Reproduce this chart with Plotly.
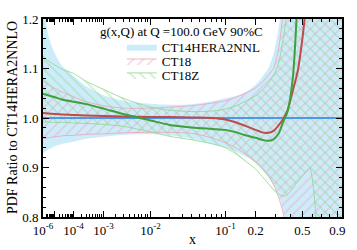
import numpy as np
import plotly.graph_objects as go

# ---- data ----
x_vals = [1e-6, 3e-6, 1e-5, 3e-5, 1e-4, 3e-4, 1e-3, 3e-3, 1e-2, 0.02, 0.04, 0.07,
          0.1, 0.13, 0.16, 0.2, 0.23, 0.26, 0.29, 0.32, 0.35, 0.38, 0.42, 0.46,
          0.5, 0.55, 0.57, 0.6, 0.63, 0.66, 0.7, 0.8, 0.9, 0.97]

ct14_central = [1.0] * len(x_vals)
ct14_upper = [1.25, 1.17, 1.13, 1.104, 1.085, 1.064, 1.046, 1.035, 1.029, 1.027, 1.028, 1.034,
              1.040, 1.045, 1.052, 1.067, 1.083, 1.100, 1.13, 1.18, 1.25, 1.35, 1.45, 1.55,
              1.65, 1.75, 1.8, 1.9, 2.0, 2.1, 2.2, 2.4, 2.6, 2.8]
ct14_lower = [0.929, 0.936, 0.943, 0.948, 0.952, 0.958, 0.962, 0.966, 0.967, 0.965, 0.958, 0.948,
              0.940, 0.932, 0.922, 0.910, 0.896, 0.881, 0.864, 0.845, 0.812, 0.76, 0.70, 0.64,
              0.58, 0.52, 0.50, 0.46, 0.42, 0.38, 0.34, 0.25, 0.15, 0.10]

ct18_central = [1.010, 1.009, 1.008, 1.007, 1.006, 1.005, 1.004, 1.003, 1.002, 1.002, 1.001, 1.000,
                0.997, 0.991, 0.984, 0.976, 0.971, 0.970, 0.974, 0.985, 0.998, 1.015, 1.055, 1.095,
                1.16, 1.26, 1.30, 1.40, 1.50, 1.60, 1.70, 1.90, 2.10, 2.30]
ct18_upper = [1.075, 1.068, 1.060, 1.052, 1.043, 1.033, 1.025, 1.020, 1.020, 1.022, 1.025, 1.030,
              1.035, 1.042, 1.050, 1.061, 1.072, 1.086, 1.100, 1.14, 1.21, 1.30, 1.42, 1.55,
              1.65, 1.75, 1.8, 1.9, 2.0, 2.1, 2.2, 2.4, 2.6, 2.8]
ct18_lower = [0.958, 0.960, 0.962, 0.964, 0.965, 0.967, 0.968, 0.970, 0.971, 0.971, 0.969, 0.960,
              0.950, 0.939, 0.927, 0.912, 0.900, 0.885, 0.866, 0.840, 0.808, 0.75, 0.68, 0.62,
              0.56, 0.50, 0.48, 0.44, 0.40, 0.36, 0.32, 0.24, 0.15, 0.10]

ct18z_central = [1.049, 1.046, 1.042, 1.037, 1.033, 1.028, 1.019, 1.008, 0.995, 0.986, 0.981, 0.978,
                 0.976, 0.971, 0.965, 0.960, 0.956, 0.954, 0.957, 0.968, 0.992, 1.012, 1.080, 1.25,
                 1.45, 1.65, 1.70, 1.80, 1.90, 2.00, 2.10, 2.30, 2.50, 2.70]
ct18z_upper = [1.125, 1.116, 1.107, 1.098, 1.090, 1.074, 1.058, 1.040, 1.022, 1.016, 1.013, 1.014,
               1.018, 1.025, 1.034, 1.045, 1.056, 1.070, 1.086, 1.11, 1.16, 1.22, 1.32, 1.45,
               1.55, 1.65, 1.7, 1.8, 1.9, 2.0, 2.1, 2.3, 2.5, 2.7]
ct18z_lower = [0.992, 0.992, 0.991, 0.991, 0.990, 0.989, 0.987, 0.983, 0.972, 0.963, 0.956, 0.948,
               0.940, 0.927, 0.913, 0.897, 0.882, 0.868, 0.855, 0.846, 0.842, 0.845, 0.858, 0.872,
               0.883, 0.895, 0.900, 0.868, 0.81, 0.70, 0.55, 0.40, 0.30, 0.20]

major_ticks = [1e-6, 1e-5, 1e-4, 1e-3, 1e-2, 0.1, 0.2, 0.5, 0.9]
major_text = ["10<sup>-6</sup>", "", "10<sup>-4</sup>", "10<sup>-3</sup>", "10<sup>-2</sup>",
              "10<sup>-1</sup>", "0.2", "0.5", "0.9"]

names = ["CT14HERA2NNL", "CT18", "CT18Z"]
title_text = "g(x,Q) at Q =100.0 GeV 90%C"

# ---- x-axis scale: x^0.2 ----
POW = 0.2
def tr(v):
    return np.power(np.asarray(v, dtype=float), POW)

xt = tr(x_vals)
minor_vals = []
for d in range(-6, 0):
    for m in range(2, 10):
        v = m * 10.0 ** d
        if v < 0.97 and not any(abs(v - mt) < 1e-12 for mt in major_ticks):
            minor_vals.append(v)

FONT = "Liberation Serif"
BLUE_FILL = "rgb(205,236,250)"
PINK = "rgb(240,160,185)"
LGREEN = "rgb(140,215,140)"
RED = "rgb(190,75,75)"
DGREEN = "rgb(60,160,60)"
BLUE = "rgb(80,150,235)"

fig = go.Figure()
SM = 0.8
fig.add_trace(go.Scatter(x=xt, y=ct14_lower, mode="lines", line=dict(width=0, shape="spline", smoothing=SM),
                         showlegend=False, hoverinfo="skip"))
fig.add_trace(go.Scatter(x=xt, y=ct14_upper, mode="lines", line=dict(width=0, color=BLUE_FILL, shape="spline", smoothing=SM),
                         fill="tonexty", fillcolor=BLUE_FILL, name=names[0], legend="legend"))
fig.add_trace(go.Scatter(x=xt, y=ct18_lower, mode="lines", line=dict(width=0.8, color=PINK, shape="spline", smoothing=SM),
                         showlegend=False))
fig.add_trace(go.Scatter(x=xt, y=ct18_upper, mode="lines", line=dict(width=0.8, color=PINK, shape="spline", smoothing=SM),
                         fill="tonexty", fillcolor="rgba(0,0,0,0)",
                         fillpattern=dict(shape="/", fgcolor=PINK, bgcolor="rgba(0,0,0,0)", size=7, solidity=0.2),
                         name=names[1], legend="legend2"))
fig.add_trace(go.Scatter(x=xt, y=ct18z_lower, mode="lines", line=dict(width=0.8, color=LGREEN, shape="spline", smoothing=SM),
                         showlegend=False))
fig.add_trace(go.Scatter(x=xt, y=ct18z_upper, mode="lines", line=dict(width=0.8, color=LGREEN, shape="spline", smoothing=SM),
                         fill="tonexty", fillcolor="rgba(0,0,0,0)",
                         fillpattern=dict(shape="\\", fgcolor=LGREEN, bgcolor="rgba(0,0,0,0)", size=7, solidity=0.2),
                         name=names[2], legend="legend3"))
fig.add_trace(go.Scatter(x=xt, y=ct14_central, mode="lines", line=dict(width=2, color=BLUE), showlegend=False))
fig.add_trace(go.Scatter(x=xt, y=ct18_central, mode="lines", line=dict(width=2, color=RED, shape="spline", smoothing=SM),
                         showlegend=False))
fig.add_trace(go.Scatter(x=xt, y=ct18z_central, mode="lines", line=dict(width=2, color=DGREEN, shape="spline", smoothing=SM),
                         showlegend=False))

L, R, T, B = 43, 14, 12, 31
W, H = 357, 250
pw, ph = W - L - R, H - T - B

def px(X):
    return (X - L) / pw

def py(Y):
    return (H - B - Y) / ph

leg_common = dict(font=dict(family=FONT, size=13, color="black"), bgcolor="rgba(0,0,0,0)",
                  xanchor="left", yanchor="middle", borderwidth=0)
fig.update_layout(
    width=W, height=H, margin=dict(l=L, r=R, t=T, b=B),
    paper_bgcolor="white", plot_bgcolor="white",
    font=dict(family=FONT, size=13, color="black"),
    legend=dict(x=px(122), y=py(41), **leg_common),
    legend2=dict(x=px(122), y=py(56), **leg_common),
    legend3=dict(x=px(122), y=py(70.5), **leg_common),
    xaxis=dict(range=[float(tr(1e-6)), float(tr(0.97))], tickmode="array",
               tickvals=list(tr(major_ticks)), ticktext=major_text,
               ticks="inside", ticklen=6, tickwidth=1, tickcolor="black",
               showline=True, linewidth=2, linecolor="black", mirror="allticks",
               showgrid=False, zeroline=False,
               tickfont=dict(family=FONT, size=13, color="black"),
               minor=dict(tickmode="array", tickvals=list(tr(minor_vals)), ticks="inside",
                          ticklen=3, tickwidth=1, tickcolor="black", showgrid=False)),
    yaxis=dict(range=[0.8, 1.2], tickmode="linear", tick0=0.8, dtick=0.1, tickformat=".1f",
               ticks="inside", ticklen=6, tickwidth=1, tickcolor="black",
               showline=True, linewidth=2, linecolor="black", mirror="allticks",
               showgrid=False, zeroline=False,
               tickfont=dict(family=FONT, size=13, color="black"),
               minor=dict(dtick=0.02, ticks="inside", ticklen=3, tickwidth=1,
                          tickcolor="black", showgrid=False)),
    annotations=[
        dict(text=title_text, xref="paper", yref="paper", x=px(98), y=py(25),
             xanchor="left", yanchor="middle", showarrow=False,
             font=dict(family=FONT, size=13, color="black")),
        dict(text="PDF Ratio to CT14HERA2NNLO", xref="paper", yref="paper", x=px(12), y=0.5,
             xanchor="center", yanchor="middle", textangle=-90, showarrow=False,
             font=dict(family=FONT, size=14, color="black")),
        dict(text="x", xref="paper", yref="paper", x=0.5, y=py(242),
             xanchor="center", yanchor="middle", showarrow=False,
             font=dict(family=FONT, size=14, color="black")),
    ],
)

fig.write_html("out.html", config={"displayModeBar": False},
               post_script="document.body.style.margin='0px';document.body.style.padding='0px';")
